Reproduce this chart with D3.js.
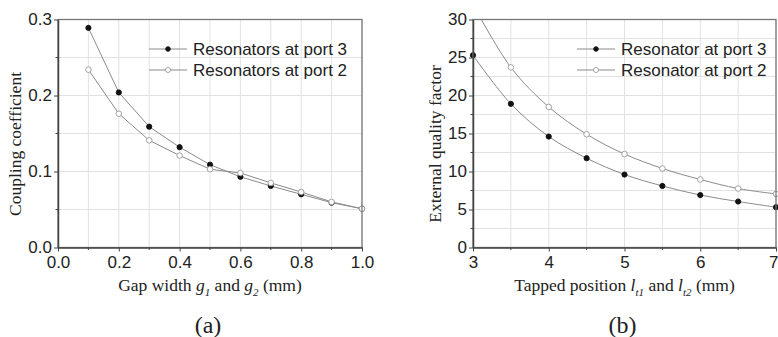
<!DOCTYPE html>
<html>
<head>
<meta charset="utf-8">
<script src="https://cdn.jsdelivr.net/npm/d3@7"></script>
<style>
  body { margin: 0; background: #fff; }
  svg text { fill: #222; }
</style>
</head>
<body>
<div id="chart"></div>
<script>
// panel (a) data
const gapX = [0.1, 0.2, 0.3, 0.4, 0.5, 0.6, 0.7, 0.8, 0.9, 1.0];
const couplingPort3 = [0.289, 0.204, 0.159, 0.132, 0.109, 0.093, 0.081, 0.070, 0.059, 0.051];
const couplingPort2 = [0.234, 0.176, 0.141, 0.121, 0.103, 0.098, 0.085, 0.073, 0.060, 0.051];
const gapTicks = [0, 0.2, 0.4, 0.6, 0.8, 1.0];
const couplingTicks = [0, 0.1, 0.2, 0.3];

// panel (b) data
const tapX = [3, 3.5, 4, 4.5, 5, 5.5, 6, 6.5, 7];
const qPort3 = [25.3, 18.9, 14.6, 11.75, 9.6, 8.1, 6.9, 6.05, 5.3];
const qPort2 = [32.0, 23.7, 18.5, 14.9, 12.3, 10.4, 8.95, 7.76, 7.05];
const tapTicks = [3, 4, 5, 6, 7];
const qTicks = [0, 5, 10, 15, 20, 25, 30];

const W = 778, H = 337;
const svg = d3.select("#chart").append("svg")
  .attr("width", W).attr("height", H);

const plotTop = 19.5, plotBottom = 247.5;

function panel(opts) {
  const g = svg.append("g");
  const x = d3.scaleLinear().domain(opts.xDomain).range([opts.left, opts.right]);
  const y = d3.scaleLinear().domain(opts.yDomain).range([plotBottom, plotTop]);

  // grid (major + minor)
  const xs = d3.range(opts.xDomain[0], opts.xDomain[1] + 1e-9, opts.xMinor);
  const ys = d3.range(opts.yDomain[0], opts.yDomain[1] + 1e-9, opts.yMinor);
  g.selectAll(".gx").data(xs).enter().append("line")
    .attr("x1", d => x(d)).attr("x2", d => x(d))
    .attr("y1", plotTop).attr("y2", plotBottom)
    .attr("stroke", "#e2e2e2").attr("stroke-width", 1);
  g.selectAll(".gy").data(ys).enter().append("line")
    .attr("y1", d => y(d)).attr("y2", d => y(d))
    .attr("x1", opts.left).attr("x2", opts.right)
    .attr("stroke", "#e2e2e2").attr("stroke-width", 1);

  // series
  const clipId = "clip" + opts.name;
  svg.append("clipPath").attr("id", clipId).append("rect")
    .attr("x", opts.left - 4).attr("y", plotTop)
    .attr("width", opts.right - opts.left + 8).attr("height", plotBottom - plotTop);
  const plot = g.append("g").attr("clip-path", `url(#${clipId})`);

  const line = d3.line()
    .x(d => x(d[0])).y(d => y(d[1]))
    .curve(opts.curve);

  opts.series.forEach(s => {
    const pts = opts.xs.map((v, i) => [v, s.values[i]]);
    plot.append("path").datum(pts)
      .attr("d", line).attr("fill", "none")
      .attr("stroke", "#8a8a8a").attr("stroke-width", 1);
    plot.selectAll(null).data(pts).enter().append("circle")
      .attr("cx", d => x(d[0])).attr("cy", d => y(d[1]))
      .attr("r", s.filled ? 2.6 : 2.8)
      .attr("fill", s.filled ? "#111" : "#fff")
      .attr("stroke", s.filled ? "#111" : "#999")
      .attr("stroke-width", 0.9);
  });

  // frame
  g.append("rect")
    .attr("x", opts.left).attr("y", plotTop)
    .attr("width", opts.right - opts.left).attr("height", plotBottom - plotTop)
    .attr("fill", "none").attr("stroke", "#777").attr("stroke-width", 1.3);

  // axes
  const xAxis = d3.axisBottom(x).tickValues(opts.xTicks).tickFormat(opts.xFmt)
    .tickSizeInner(4).tickSizeOuter(0).tickPadding(3);
  const yAxis = d3.axisLeft(y).tickValues(opts.yTicks).tickFormat(opts.yFmt)
    .tickSizeInner(4).tickSizeOuter(0).tickPadding(2);
  const gx = g.append("g").attr("transform", `translate(0,${plotBottom})`).call(xAxis);
  const gy = g.append("g").attr("transform", `translate(${opts.left},0)`).call(yAxis);
  [gx, gy].forEach(a => {
    a.select(".domain").attr("stroke", "#444").attr("stroke-width", 1.5);
    a.selectAll(".tick line").attr("stroke", "#444");
    a.selectAll("text")
      .attr("font-family", "Liberation Sans, Arial, sans-serif")
      .attr("font-size", 17).attr("fill", "#222");
  });
  gx.selectAll("text").attr("dy", "0.82em");
  // keep the last x label inside the window, as far as it goes
  if (opts.right > W - 8) {
    gx.selectAll(".tick:last-of-type text").attr("text-anchor", "end").attr("x", W - opts.right);
  }

  // minor ticks
  g.selectAll(".mx").data(xs.filter(v => !opts.xTicks.some(t => Math.abs(t - v) < 1e-9)))
    .enter().append("line")
    .attr("x1", d => x(d)).attr("x2", d => x(d))
    .attr("y1", plotBottom).attr("y2", plotBottom + 2.5)
    .attr("stroke", "#444");
  g.selectAll(".my").data(ys.filter(v => !opts.yTicks.some(t => Math.abs(t - v) < 1e-9)))
    .enter().append("line")
    .attr("y1", d => y(d)).attr("y2", d => y(d))
    .attr("x1", opts.left).attr("x2", opts.left - 2.5)
    .attr("stroke", "#444");

  // legend
  opts.series.forEach((s, i) => {
    const ly = 49 + i * 21;
    g.append("line")
      .attr("x1", opts.legX).attr("x2", opts.legX + 38)
      .attr("y1", ly).attr("y2", ly)
      .attr("stroke", "#8a8a8a").attr("stroke-width", 1);
    g.append("circle")
      .attr("cx", opts.legX + 19).attr("cy", ly)
      .attr("r", s.filled ? 2.3 : 2.5)
      .attr("fill", s.filled ? "#111" : "#fff")
      .attr("stroke", s.filled ? "#111" : "#999").attr("stroke-width", 0.9);
    g.append("text")
      .attr("x", opts.legX + 44).attr("y", ly + 6)
      .attr("font-family", "Liberation Sans, Arial, sans-serif")
      .attr("font-size", 17)
      .text(s.label);
  });

  // y title
  g.append("text")
    .attr("transform", `translate(${opts.yTitleX},144) rotate(-90)`)
    .attr("text-anchor", "middle")
    .attr("font-family", "Liberation Serif, Times New Roman, serif")
    .attr("font-size", 17.5)
    .text(opts.yTitle);

  // x title
  const xt = g.append("text")
    .attr("x", (opts.left + opts.right) / 2).attr("y", 291)
    .attr("text-anchor", "middle")
    .attr("font-family", "Liberation Serif, Times New Roman, serif")
    .attr("font-size", 17.5);
  opts.xTitle.forEach(p => {
    const t = xt.append("tspan").text(p.t);
    if (p.i) t.attr("font-style", "italic");
    if (p.sub) t.attr("font-size", 11).attr("dy", 4.5);
    if (p.up) t.attr("dy", -4.5);
  });

  // panel label
  g.append("text")
    .attr("x", (opts.left + opts.right) / 2 - 2).attr("y", 333)
    .attr("text-anchor", "middle")
    .attr("font-family", "Liberation Serif, Times New Roman, serif")
    .attr("font-size", 24)
    .text(opts.label);
}

panel({
  name: "a", left: 58, right: 362,
  xDomain: [0, 1], yDomain: [0, 0.3], xMinor: 0.1, yMinor: 0.05,
  xTicks: gapTicks, yTicks: couplingTicks,
  xFmt: d3.format(".1f"), yFmt: d3.format(".1f"),
  xs: gapX, curve: d3.curveLinear,
  series: [
    { label: "Resonators at port 3", values: couplingPort3, filled: true },
    { label: "Resonators at port 2", values: couplingPort2, filled: false }
  ],
  legX: 149, yTitleX: 21, yTitle: "Coupling coefficient",
  xTitle: [
    { t: "Gap width " }, { t: "g", i: true }, { t: "1", i: true, sub: true },
    { t: " and ", up: true }, { t: "g", i: true }, { t: "2", i: true, sub: true },
    { t: " (mm)", up: true }
  ],
  label: "(a)"
});

panel({
  name: "b", left: 473, right: 776,
  xDomain: [3, 7], yDomain: [0, 30], xMinor: 0.5, yMinor: 2.5,
  xTicks: tapTicks, yTicks: qTicks,
  xFmt: d3.format("d"), yFmt: d3.format("d"),
  xs: tapX, curve: d3.curveCatmullRom,
  series: [
    { label: "Resonator at port 3", values: qPort3, filled: true },
    { label: "Resonator at port 2", values: qPort2, filled: false }
  ],
  legX: 577, yTitleX: 441, yTitle: "External quality factor",
  xTitle: [
    { t: "Tapped position " }, { t: "l", i: true }, { t: "t1", i: true, sub: true },
    { t: " and ", up: true }, { t: "l", i: true }, { t: "t2", i: true, sub: true },
    { t: " (mm)", up: true }
  ],
  label: "(b)"
});
</script>
</body>
</html>
